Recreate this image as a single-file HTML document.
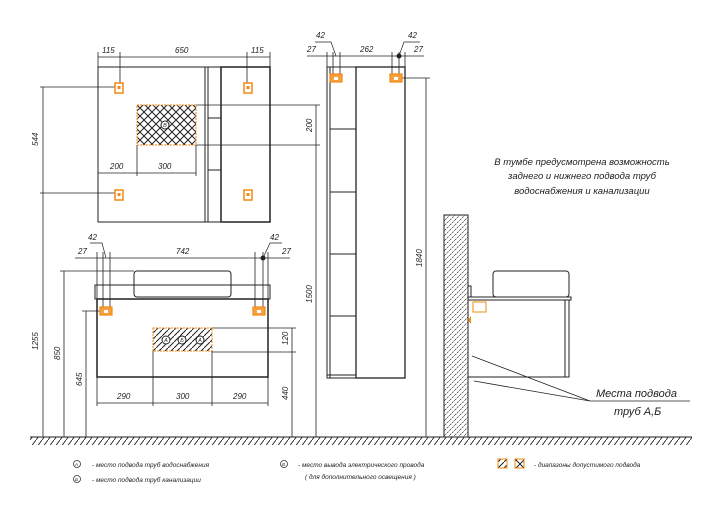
<!DOCTYPE html>
<html><head><meta charset="utf-8"><style>
html,body{margin:0;padding:0;background:#fff;}
svg{display:block;}
text{font-family:"Liberation Sans",sans-serif;font-style:italic;fill:#222;}
</style></head><body>
<svg width="720" height="516" viewBox="0 0 720 516" xmlns="http://www.w3.org/2000/svg">
<defs>
<pattern id="h" width="6" height="6" patternUnits="userSpaceOnUse"><path d="M-1,7 L7,-1" stroke="#222" stroke-width="1"/></pattern>
<pattern id="hg" width="6" height="8" patternUnits="userSpaceOnUse"><path d="M0,8 L6,0" stroke="#222" stroke-width="0.9"/></pattern>
<pattern id="hw" width="5" height="5" patternUnits="userSpaceOnUse"><path d="M0,5 L5,0" stroke="#333" stroke-width="0.7" stroke-dasharray="2,1"/></pattern>
<pattern id="x" width="8" height="8" patternUnits="userSpaceOnUse"><path d="M0,0 L8,8 M8,0 L0,8" stroke="#222" stroke-width="1"/></pattern>
<g id="hook"><rect x="-4" y="-5" width="8" height="10" fill="#fff" stroke="#f08a10" stroke-width="1.5"/><rect x="-1.5" y="-2" width="3" height="3" fill="#f08a10"/></g>
<g id="hk2"><rect x="-6" y="-4" width="12" height="8" fill="#f6a040" stroke="#f08a10" stroke-width="1.2"/><rect x="-2" y="-1" width="4" height="3" fill="#fff"/></g>
</defs>
<g stroke="#222" stroke-width="1" fill="none">
<rect x="98" y="67" width="107" height="155"/>
<rect x="205" y="67" width="16" height="155"/><line x1="208" y1="67" x2="208" y2="222"/>
<line x1="208" y1="118" x2="221" y2="118"/><line x1="208" y1="170" x2="221" y2="170"/>
<rect x="221" y="67" width="49" height="155" stroke-width="1.5"/>
<rect x="137" y="105" width="59" height="40" fill="url(#x)" stroke="#f08a10" stroke-dasharray="2,1"/>
<circle cx="165" cy="125" r="4" fill="#fff"/>
<line x1="196" y1="105" x2="320" y2="105" stroke-width="0.8"/><line x1="196" y1="145" x2="320" y2="145" stroke-width="0.8"/>
<line x1="98" y1="57" x2="270" y2="57" stroke-width="0.8"/>
<line x1="98" y1="52" x2="98" y2="67" stroke-width="0.8"/><line x1="120" y1="52" x2="120" y2="88" stroke-width="0.8"/>
<line x1="247" y1="52" x2="247" y2="88" stroke-width="0.8"/><line x1="270" y1="52" x2="270" y2="67" stroke-width="0.8"/>
<line x1="98" y1="173" x2="196" y2="173" stroke-width="0.8"/><line x1="137" y1="145" x2="137" y2="176" stroke-width="0.8"/><line x1="196" y1="145" x2="196" y2="176" stroke-width="0.8"/>
<line x1="40" y1="87" x2="118" y2="87" stroke-width="0.8"/><line x1="40" y1="193" x2="118" y2="193" stroke-width="0.8"/>
<line x1="43" y1="87" x2="43" y2="437" stroke-width="0.8"/>
<rect x="134" y="271" width="97" height="26" rx="3" fill="#fff"/>
<rect x="95" y="285" width="175" height="14"/>
<rect x="97" y="299" width="171" height="78" stroke-width="1.5"/>
<rect x="153" y="328" width="59" height="23" fill="url(#h)" stroke="#f08a10" stroke-dasharray="2,1"/>
<circle cx="166" cy="340" r="4" fill="#fff"/><circle cx="182" cy="340" r="4" fill="#fff"/><circle cx="200" cy="340" r="4" fill="#fff"/>
<line x1="212" y1="328" x2="296" y2="328" stroke-width="0.8"/><line x1="212" y1="352" x2="296" y2="352" stroke-width="0.8"/>
<line x1="292" y1="328" x2="292" y2="437" stroke-width="0.8"/>
<line x1="75" y1="258" x2="290" y2="258" stroke-width="0.8"/>
<line x1="97" y1="252" x2="97" y2="299" stroke-width="0.8"/><line x1="103" y1="252" x2="103" y2="311" stroke-width="0.8"/><line x1="110" y1="252" x2="110" y2="311" stroke-width="0.8"/>
<line x1="255" y1="252" x2="255" y2="311" stroke-width="0.8"/><line x1="263" y1="252" x2="263" y2="311" stroke-width="0.8"/><line x1="268" y1="252" x2="268" y2="299" stroke-width="0.8"/>
<path d="M90,243 L102,243 L106,258" stroke-width="0.7"/><path d="M282,243 L270,243 L263,258" stroke-width="0.7"/>
<line x1="97" y1="377" x2="97" y2="406" stroke-width="0.8"/><line x1="153" y1="351" x2="153" y2="406" stroke-width="0.8"/><line x1="212" y1="351" x2="212" y2="406" stroke-width="0.8"/><line x1="268" y1="377" x2="268" y2="406" stroke-width="0.8"/>
<line x1="97" y1="403" x2="268" y2="403" stroke-width="0.8"/>
<line x1="60" y1="271" x2="134" y2="271" stroke-width="0.8"/><line x1="64" y1="271" x2="64" y2="437" stroke-width="0.8"/>
<line x1="82" y1="311" x2="103" y2="311" stroke-width="0.8"/><line x1="86" y1="311" x2="86" y2="437" stroke-width="0.8"/>
<line x1="316" y1="105" x2="316" y2="437" stroke-width="0.8"/>
<rect x="327" y="67" width="29" height="311"/><line x1="330" y1="67" x2="330" y2="378"/>
<rect x="356" y="67" width="49" height="311" stroke-width="1.3"/>
<line x1="330" y1="129" x2="356" y2="129"/><line x1="330" y1="192" x2="356" y2="192"/><line x1="330" y1="254" x2="356" y2="254"/><line x1="330" y1="316" x2="356" y2="316"/><line x1="327" y1="375" x2="356" y2="375"/>
<line x1="307" y1="56" x2="424" y2="56" stroke-width="0.8"/>
<line x1="327" y1="52" x2="327" y2="67" stroke-width="0.8"/><line x1="333" y1="52" x2="333" y2="78" stroke-width="0.8"/><line x1="340" y1="52" x2="340" y2="78" stroke-width="0.8"/>
<line x1="392" y1="52" x2="392" y2="78" stroke-width="0.8"/><line x1="399" y1="52" x2="399" y2="78" stroke-width="0.8"/><line x1="405" y1="52" x2="405" y2="67" stroke-width="0.8"/>
<path d="M315,42 L331,42 L336,56" stroke-width="0.7"/><path d="M420,42 L404,42 L399,56" stroke-width="0.7"/>
<line x1="402" y1="78" x2="430" y2="78" stroke-width="0.8"/><line x1="426" y1="78" x2="426" y2="437" stroke-width="0.8"/>
<rect x="444" y="215" width="24" height="222" fill="url(#hw)"/>
<rect x="493" y="271" width="76" height="26" rx="3" fill="#fff"/>
<rect x="468" y="297" width="103" height="3"/>
<rect x="468" y="286" width="3" height="11"/>
<rect x="468" y="300" width="97" height="77"/>
<rect x="565" y="300" width="4" height="77"/>
<rect x="473" y="302" width="13" height="10" stroke="#f08a10"/>
<path d="M590,401 L472,356 M590,401 L474,381 M590,401 L690,401" stroke-width="0.8"/>
<line x1="30" y1="437" x2="692" y2="437"/>
<rect x="30" y="437" width="662" height="8" fill="url(#hg)" stroke="none"/>
</g>
<use href="#hook" x="119" y="88"/><use href="#hook" x="248" y="88"/><use href="#hook" x="119" y="195"/><use href="#hook" x="248" y="195"/>
<use href="#hk2" x="106" y="311"/><use href="#hk2" x="259" y="311"/>
<use href="#hk2" x="336" y="78"/><use href="#hk2" x="396" y="78"/>
<circle cx="263" cy="258" r="2.5" fill="#222"/><circle cx="399" cy="56" r="2.5" fill="#222"/>
<path d="M468,320 l3,-4 l0,8z" fill="#f08a10"/>
<g font-size="5.5" text-anchor="middle" font-style="normal">
<text x="165" y="127">В</text><text x="166" y="342">А</text><text x="182" y="342">Б</text><text x="200" y="342">А</text>
</g>
<g font-size="8">
<text x="102" y="53">115</text><text x="175" y="53">650</text><text x="251" y="53">115</text>
<text x="110" y="169">200</text><text x="158" y="169">300</text>
<text x="38" y="146" transform="rotate(-90 38 146)">544</text>
<text x="38" y="350" transform="rotate(-90 38 350)">1255</text>
<text x="60" y="360" transform="rotate(-90 60 360)">850</text>
<text x="82" y="386" transform="rotate(-90 82 386)">645</text>
<text x="312" y="132" transform="rotate(-90 312 132)">200</text>
<text x="312" y="303" transform="rotate(-90 312 303)">1500</text>
<text x="288" y="345" transform="rotate(-90 288 345)">120</text>
<text x="288" y="400" transform="rotate(-90 288 400)">440</text>
<text x="422" y="267" transform="rotate(-90 422 267)">1840</text>
<text x="88" y="240">42</text><text x="78" y="254">27</text><text x="176" y="254">742</text>
<text x="270" y="240">42</text><text x="282" y="254">27</text>
<text x="117" y="399">290</text><text x="176" y="399">300</text><text x="233" y="399">290</text>
<text x="316" y="38">42</text><text x="307" y="52">27</text><text x="360" y="52">262</text><text x="408" y="38">42</text><text x="414" y="52">27</text>
</g>
<g font-size="9.5" text-anchor="middle">
<text x="582" y="165">В тумбе предусмотрена возможность</text>
<text x="582" y="179">заднего и нижнего подвода труб</text>
<text x="582" y="194">водоснабжения и канализации</text>
</g>
<text x="596" y="397" font-size="11">Места подвода</text>
<text x="614" y="415" font-size="11">труб А,Б</text>
<g font-size="6.5" fill="#333">
<circle cx="77" cy="464" r="3.5" fill="none" stroke="#333" stroke-width="0.8"/><text x="75" y="466" font-size="4.5">А</text><text x="92" y="467">- место подвода труб водоснабжения</text>
<circle cx="77" cy="479" r="3.5" fill="none" stroke="#333" stroke-width="0.8"/><text x="75" y="481" font-size="4.5">Б</text><text x="92" y="482">- место подвода труб канализации</text>
<circle cx="284" cy="464" r="3.5" fill="none" stroke="#333" stroke-width="0.8"/><text x="282" y="466" font-size="4.5">В</text><text x="298" y="467">- место вывода электрического провода</text>
<text x="305" y="479">( для дополнительного освещения )</text>
<rect x="498" y="459" width="9" height="9" fill="url(#h)" stroke="#f08a10"/>
<rect x="515" y="459" width="9" height="9" fill="url(#x)" stroke="#f08a10"/>
<text x="534" y="467">- диапазоны допустимого подвода</text>
</g>
</svg>
</body></html>
